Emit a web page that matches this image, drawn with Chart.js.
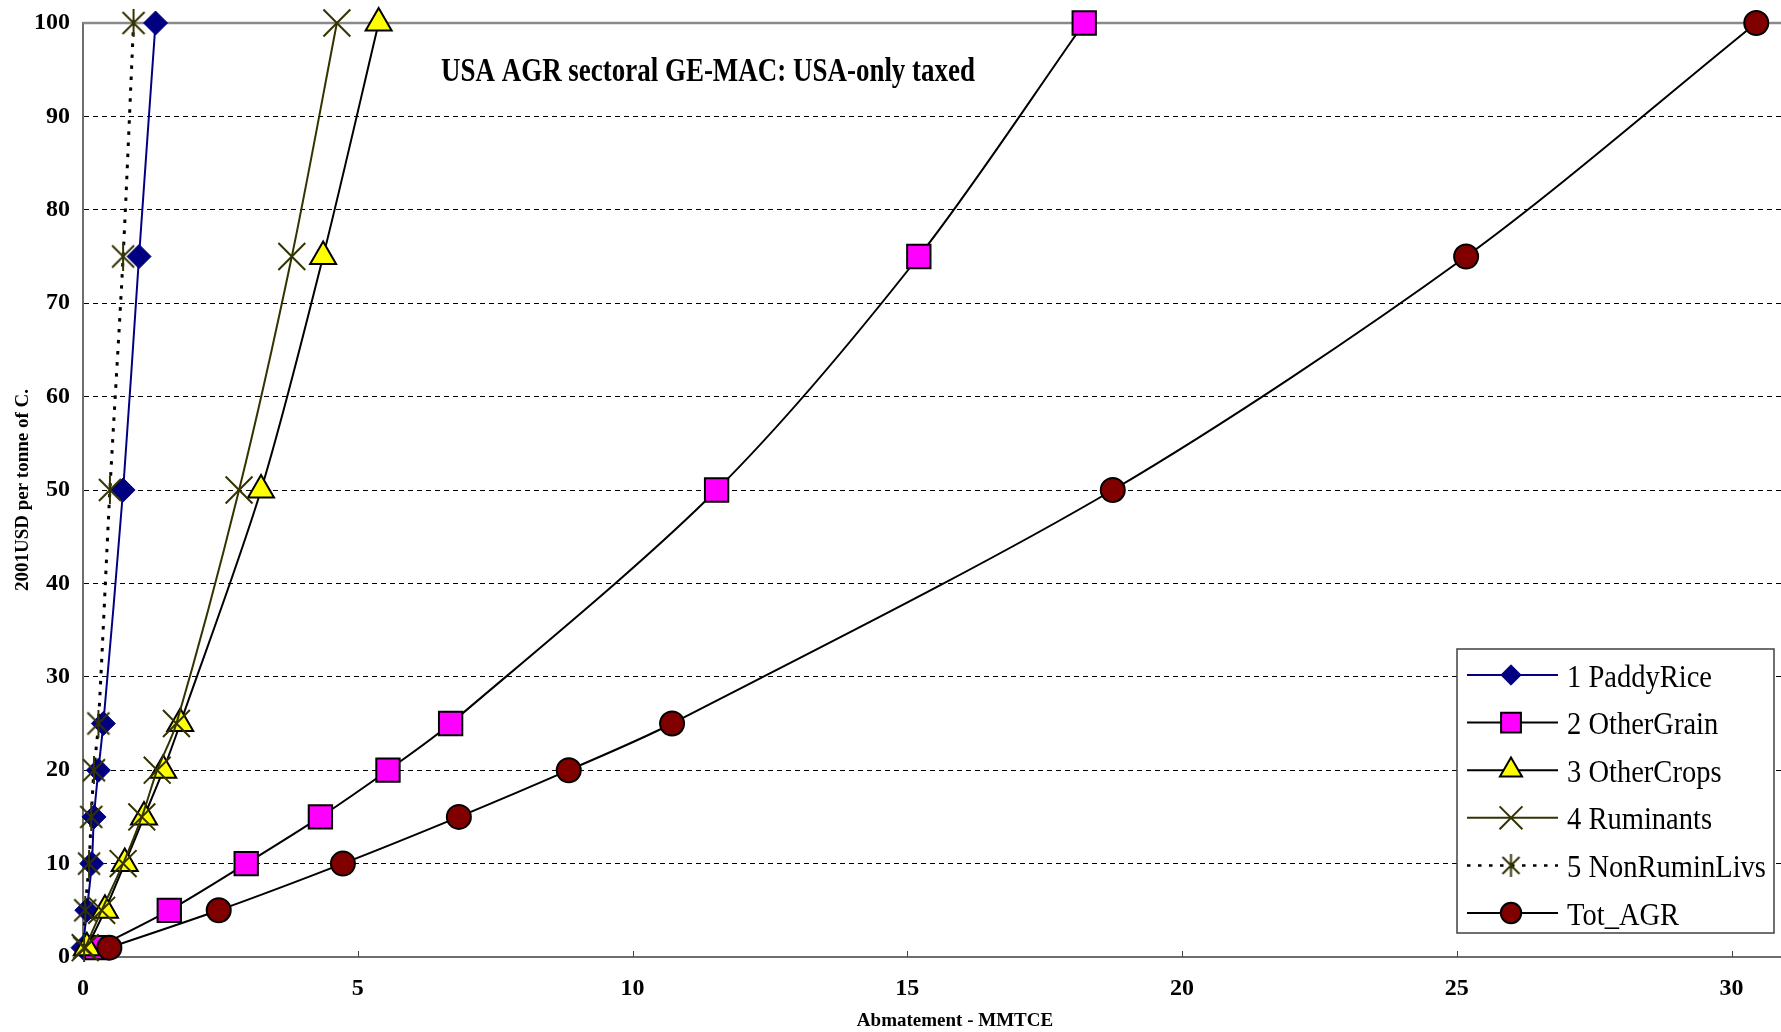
<!DOCTYPE html>
<html>
<head>
<meta charset="utf-8">
<title>USA AGR sectoral GE-MAC</title>
<script src="https://cdn.jsdelivr.net/npm/chart.js@4.4.1/dist/chart.umd.min.js"></script>
<style>
  html, body { margin: 0; padding: 0; background: #fff; }
  #wrap { width: 1781px; height: 1032px; }
</style>
</head>
<body>
<div id="wrap"><canvas id="macChart" width="1781" height="1032"></canvas></div>
<script>
// carbon price levels (2001 USD per tonne of C)
const prices = [1, 5, 10, 15, 20, 25, 50, 75, 100];

// abatement (MMTCE) at each price
const paddyRice    = [0.00, 0.07, 0.16, 0.20, 0.28, 0.37, 0.73, 1.02, 1.32];
const otherGrain   = [0.25, 1.57, 2.97, 4.32, 5.55, 6.69, 11.53, 15.21, 18.22];
const otherCrops   = [0.07, 0.40, 0.76, 1.11, 1.46, 1.77, 3.24, 4.37, 5.38];
const ruminants    = [0.04, 0.34, 0.73, 1.07, 1.35, 1.70, 2.84, 3.80, 4.62];
const nonRuminLivs = [0.02, 0.04, 0.11, 0.15, 0.20, 0.28, 0.49, 0.73, 0.92];
const totAGR       = [0.48, 2.47, 4.73, 6.84, 8.84, 10.72, 18.74, 25.17, 30.45];

const seriesNames = ['1 PaddyRice', '2 OtherGrain', '3 OtherCrops', '4 Ruminants', '5 NonRuminLivs', 'Tot_AGR'];
const xTickValues = [0, 5, 10, 15, 20, 25, 30];
const yTickValues = [0, 10, 20, 30, 40, 50, 60, 70, 80, 90, 100];

const chartTitle = 'USA AGR sectoral GE-MAC: USA-only taxed';
const xAxisTitle = 'Abmatement - MMTCE';
const yAxisTitle = '2001USD per tonne of C.';

Chart.defaults.font.family = '"Liberation Serif", "Times New Roman", serif';
Chart.defaults.color = '#000';

// asterisk marker (x with a vertical bar), like the excel one
function makeStar(size, color) {
  var c = document.createElement('canvas');
  c.width = size; c.height = size;
  var g = c.getContext('2d');
  var m = 2, h = size / 2;
  g.strokeStyle = color;
  g.lineWidth = 2;
  g.beginPath();
  g.moveTo(m + 1, m + 1); g.lineTo(size - m - 1, size - m - 1);
  g.moveTo(size - m - 1, m + 1); g.lineTo(m + 1, size - m - 1);
  g.moveTo(h, 0); g.lineTo(h, size);
  g.stroke();
  return c;
}
var starBig = makeStar(28, '#333300');
var starSmall = makeStar(23, '#333300');

function pts(xs) {
  return xs.map(function (x, i) { return { x: x, y: prices[i] }; });
}

var styles = [
  { borderColor: '#000080', borderWidth: 2, pointStyle: 'rectRot', pointRadius: 12,
    pointBackgroundColor: '#000080', pointBorderColor: '#000080', pointBorderWidth: 1 },
  { borderColor: '#000', borderWidth: 2, pointStyle: 'rect', pointRadius: 16.5,
    pointBackgroundColor: '#ff00ff', pointBorderColor: '#000', pointBorderWidth: 2 },
  { borderColor: '#000', borderWidth: 2, pointStyle: 'triangle', pointRadius: 15,
    pointBackgroundColor: '#ffff00', pointBorderColor: '#000', pointBorderWidth: 2 },
  { borderColor: '#333300', borderWidth: 2, pointStyle: 'crossRot', pointRadius: 19,
    pointBackgroundColor: '#333300', pointBorderColor: '#333300', pointBorderWidth: 2 },
  { borderColor: '#000', borderWidth: 3, borderDash: [3.5, 7.5], pointStyle: starBig, pointRadius: 14,
    pointBackgroundColor: '#333300', pointBorderColor: '#333300', pointBorderWidth: 2 },
  { borderColor: '#000', borderWidth: 2, pointStyle: 'circle', pointRadius: 12,
    pointBackgroundColor: '#800000', pointBorderColor: '#000', pointBorderWidth: 2 }
];
var seriesValues = [paddyRice, otherGrain, otherCrops, ruminants, nonRuminLivs, totAGR];

var datasets = seriesValues.map(function (vals, i) {
  return Object.assign({
    label: seriesNames[i],
    data: pts(vals),
    showLine: true,
    tension: 0.3,
    clip: false,
    order: 6 - i,          // later series on top, like excel
    pointHoverRadius: styles[i].pointRadius
  }, styles[i]);
});

function noPad(s) {
  s.paddingLeft = 0; s.paddingRight = 0; s.paddingTop = 0; s.paddingBottom = 0;
}

// frame bits, title text box, x title and the boxed legend
var decor = {
  id: 'decor',
  beforeDatasetsDraw: function (chart) {
    var ctx = chart.ctx, a = chart.chartArea, xs = chart.scales.x;
    ctx.save();
    ctx.strokeStyle = '#8a8a8a';
    ctx.lineWidth = 2.5;
    ctx.beginPath();
    ctx.moveTo(a.left, a.top); ctx.lineTo(a.right, a.top);
    ctx.stroke();
    // small inward ticks on the x axis
    ctx.strokeStyle = '#444';
    ctx.lineWidth = 1;
    xs.ticks.forEach(function (t) {
      if (t.value === 0) return;
      var px = Math.round(xs.getPixelForValue(t.value)) + 0.5;
      ctx.beginPath(); ctx.moveTo(px, a.bottom); ctx.lineTo(px, a.bottom - 6); ctx.stroke();
    });
    ctx.restore();
  },
  afterDraw: function (chart) {
    var ctx = chart.ctx, a = chart.chartArea;
    ctx.save();

    // title inside plot, narrow serif
    ctx.font = 'bold 34px "Liberation Serif", serif';
    ctx.fillStyle = '#000';
    ctx.textBaseline = 'alphabetic';
    var tw = ctx.measureText(chartTitle).width;
    ctx.translate(a.left + 358, a.top + 58);
    ctx.scale(534 / tw, 1);
    ctx.fillText(chartTitle, 0, 0);
    ctx.setTransform(1, 0, 0, 1, 0, 0);

    // x axis title, a bit right of centre as in the original
    ctx.font = 'bold 19px "Liberation Serif", serif';
    ctx.textAlign = 'center';
    ctx.textBaseline = 'middle';
    ctx.fillText(xAxisTitle, a.left + 872, a.bottom + 64);
    ctx.textAlign = 'left';
    ctx.textBaseline = 'alphabetic';

    // legend box
    var bx = a.right - 324, by = a.bottom - 308, bw = 317, bh = 284;
    ctx.fillStyle = '#fff';
    ctx.fillRect(bx, by, bw, bh);
    ctx.strokeStyle = '#404040';
    ctx.lineWidth = 1.5;
    ctx.strokeRect(bx, by, bw, bh);

    ctx.font = '31px "Liberation Serif", serif';
    var sx = 145 / ctx.measureText(seriesNames[0]).width;
    chart.data.datasets.forEach(function (ds, i) {
      var cy = by + 26 + i * 47.6;
      ctx.save();
      ctx.strokeStyle = ds.borderColor;
      ctx.lineWidth = ds.borderWidth === 3 ? 2.5 : 2;
      ctx.setLineDash(ds.borderDash || []);
      ctx.beginPath();
      ctx.moveTo(bx + 10, cy); ctx.lineTo(bx + 101, cy);
      ctx.stroke();
      ctx.restore();

      var mx = bx + 54;
      ctx.save();
      if (typeof ds.pointStyle === 'object') {
        ctx.drawImage(starSmall, mx - starSmall.width / 2, cy - starSmall.height / 2);
      } else {
        ctx.fillStyle = ds.pointBackgroundColor;
        ctx.strokeStyle = ds.pointBorderColor;
        ctx.lineWidth = ds.pointBorderWidth;
        Chart.helpers.drawPoint(ctx, {
          pointStyle: ds.pointStyle, rotation: 0,
          radius: ds.pointRadius * 0.85, borderWidth: ds.pointBorderWidth
        }, mx, cy);
      }
      ctx.restore();

      ctx.save();
      ctx.fillStyle = '#000';
      ctx.translate(bx + 110, cy + 11.5);
      ctx.scale(sx, 1);
      ctx.fillText(ds.label, 0, 0);
      ctx.restore();
    });
    ctx.restore();
  }
};

var chart = new Chart(document.getElementById('macChart'), {
  type: 'scatter',
  data: { datasets: datasets },
  options: {
    responsive: false,
    animation: false,
    events: [],
    layout: { autoPadding: false, padding: { top: 23, right: 0, left: 0, bottom: 0 } },
    plugins: {
      legend: { display: false },
      tooltip: { enabled: false },
      title: { display: false }
    },
    scales: {
      x: {
        type: 'linear',
        min: 0,
        max: 30.9,
        afterBuildTicks: function (s) { s.ticks = xTickValues.map(function (v) { return { value: v }; }); },
        afterFit: function (s) { s.height = 75; noPad(s); },
        grid: { display: false, drawTicks: false },
        border: { display: true, color: '#6e6e6e', width: 2 },
        ticks: { font: { size: 24, weight: 'bold' }, color: '#000', padding: 17, maxRotation: 0 },
        title: { display: false, text: xAxisTitle }
      },
      y: {
        type: 'linear',
        min: 0,
        max: 100,
        afterBuildTicks: function (s) { s.ticks = yTickValues.map(function (v) { return { value: v }; }); },
        afterFit: function (s) { s.width = 83; noPad(s); },
        grid: {
          color: function (c) {
            return (c.tick && (c.tick.value === 0 || c.tick.value === 100)) ? 'rgba(0,0,0,0)' : '#000';
          },
          lineWidth: 1,
          drawTicks: false
        },
        border: { display: true, color: '#6e6e6e', width: 2, dash: [5, 4] },
        ticks: { font: { size: 24, weight: 'bold' }, color: '#000', padding: 13 },
        title: {
          display: true, text: yAxisTitle, color: '#000',
          font: { size: 19, weight: 'bold', lineHeight: 1 },
          padding: { top: 13.5, bottom: 0 }
        }
      }
    }
  },
  plugins: [decor]
});
</script>
</body>
</html>
